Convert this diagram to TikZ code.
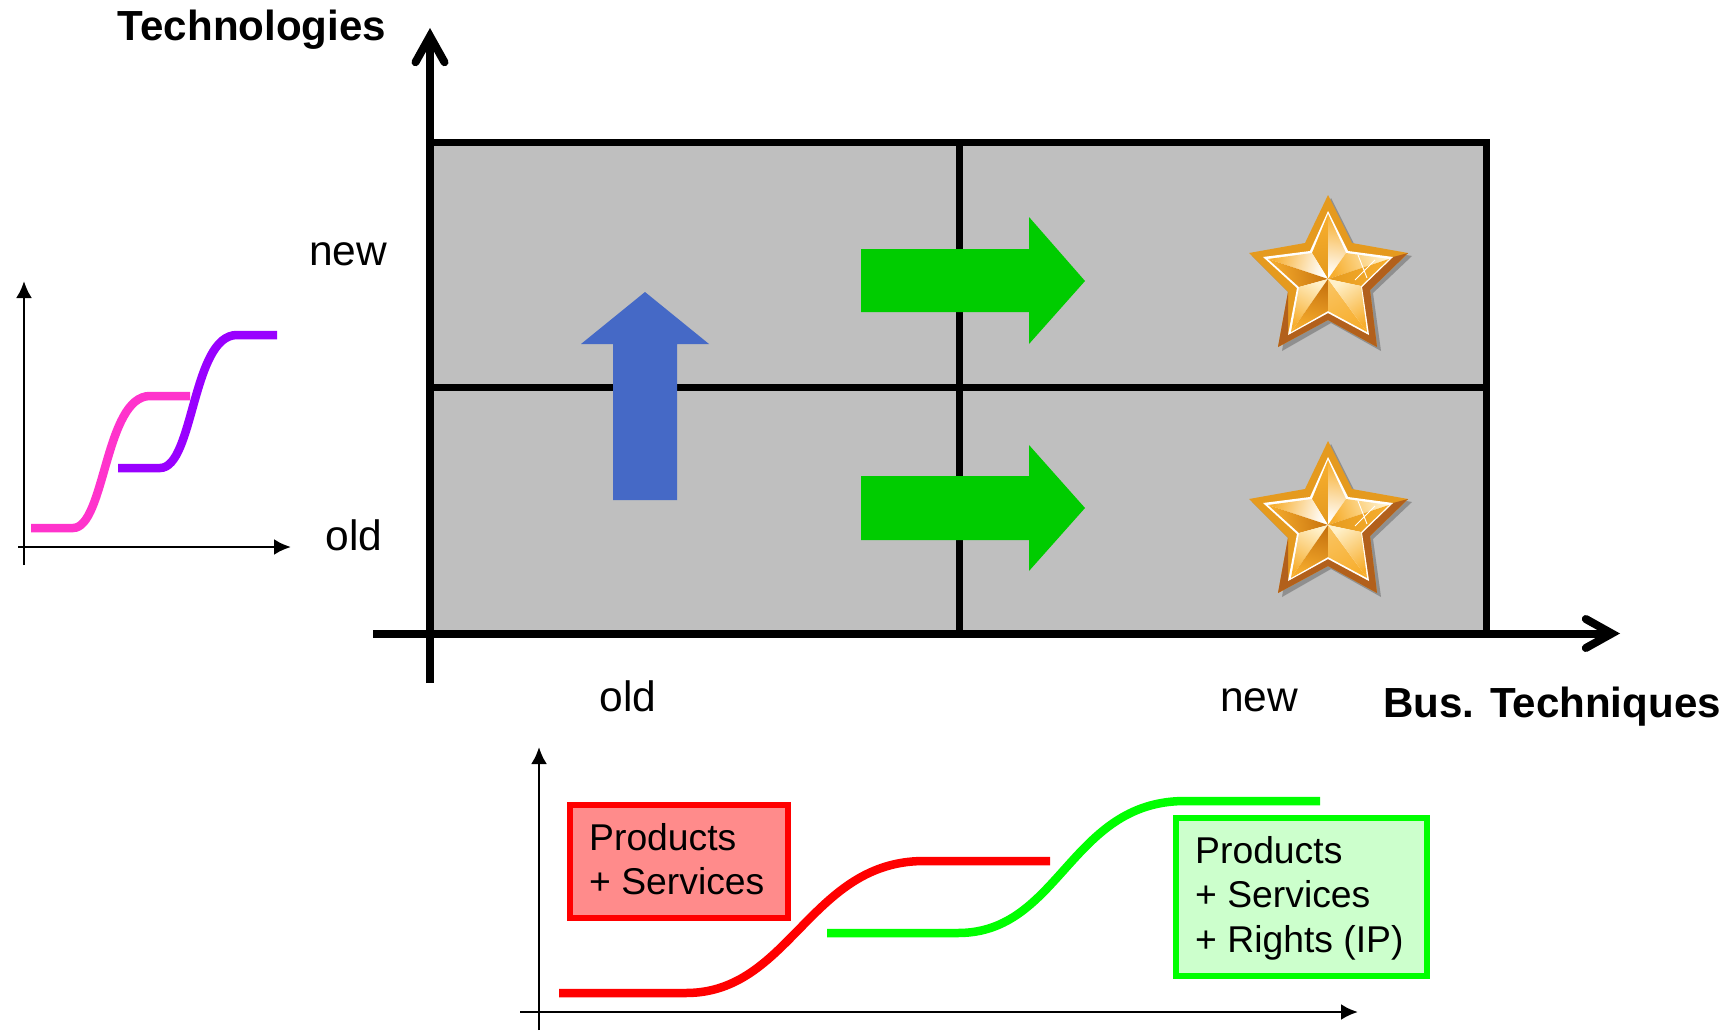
\documentclass[tikz,border=0pt]{standalone}
\usepackage{fontspec}
\setmainfont{Liberation Sans}
\usetikzlibrary{arrows.meta,calc}
\definecolor{cellgray}{HTML}{BFBFBF}
\definecolor{blueup}{HTML}{4569C6}
\definecolor{greenright}{HTML}{00CC00}
\definecolor{pinkc}{HTML}{FF33CC}
\definecolor{purplec}{HTML}{9900FF}
\definecolor{redfill}{HTML}{FF8B8B}
\definecolor{greenfill}{HTML}{CCFFCC}
\definecolor{rimgold}{HTML}{E59A1E}
\definecolor{rimdark}{HTML}{B2601C}
\definecolor{baseg}{HTML}{F7AE2E}
\definecolor{paleg}{HTML}{FFF0C8}
\definecolor{darkg}{HTML}{C8740F}
\tikzset{
  gridline/.style={line width=7pt,draw=black},
  mainaxis/.style={line width=8pt,draw=black,-{Straight Barb[length=26pt,width=29pt,line width=8pt,line cap=round,line join=miter]}},
  smallaxis/.style={line width=2.8pt,draw=black,-{Latex[length=17pt,width=16pt]}},
  curve/.style={line width=8.5pt},
  label/.style={font=\fontsize{42.5}{42.5}\selectfont,inner sep=0pt,anchor=center},
  boldlabel/.style={font=\fontsize{42.1}{42.1}\bfseries\selectfont,inner sep=0pt,anchor=center},
  boxtext/.style={font=\fontsize{37.3}{44.5}\selectfont,align=left,anchor=north west,inner sep=0pt},
  infobox/.style={line width=5.5pt,draw=#1},
  facet/.style n args={3}{top color=#1,bottom color=#2,shading angle=#3},
  starface/.pic={
    \fill[black,opacity=.25] (1331,198)--(1355,246)--(1412,256)--(1373,293)--(1381,351)--(1331,323)--(1282,351)--(1291,295)--(1252,256)--(1308,246)--cycle;
    \fill[rimgold] (1328,195)--(1352,243)--(1408,253)--(1370,290)--(1377,347)--(1328,320)--(1278,347)--(1288,292)--(1249,253)--(1305,243)--cycle;
    \fill[rimdark] (1408,253)--(1370,290)--(1377,347)--(1328,320)--(1278,347)--(1288,292)--(1288,335)--(1328,313)--(1369,335)--(1362,287)--(1393,257)--cycle;
    \fill[white] (1328,211)--(1348,251)--(1393,257)--(1362,287)--(1369,335)--(1328,313)--(1288,335)--(1297,288)--(1263,257)--(1310,251)--cycle;
    \shade[facet={baseg}{rimgold}{10}] (1328,214)--(1312,253)--(1328,279)--cycle;
    \shade[facet={baseg}{white}{-10}] (1328,214)--(1346,253)--(1328,279)--cycle;
    \shade[facet={baseg}{white}{75}] (1268,259)--(1312,253)--(1328,279)--cycle;
    \shade[facet={baseg}{darkg}{100}] (1268,259)--(1299,287)--(1328,279)--cycle;
    \shade[facet={paleg}{baseg}{-70}] (1389,259)--(1346,253)--(1328,279)--cycle;
    \shade[facet={baseg}{rimgold}{-90}] (1389,259)--(1361,286)--(1328,279)--cycle;
    \shade[facet={baseg}{paleg}{150}] (1299,287)--(1291,332)--(1328,279)--cycle;
    \shade[facet={baseg}{darkg}{165}] (1291,332)--(1328,311)--(1328,279)--cycle;
    \shade[facet={baseg}{baseg!70!paleg}{210}] (1328,279)--(1328,311)--(1367,332)--cycle;
    \shade[facet={baseg}{paleg}{215}] (1328,279)--(1367,332)--(1361,286)--cycle;
    \draw[white,line width=.9pt] (1358,255)--(1367,278) (1355,280)--(1375,260);
  }
}
\begin{document}
\begin{tikzpicture}[x=1pt,y=-1pt]
\useasboundingbox (0,0) rectangle (1736,1030);
% grid
\fill[cellgray] (430,142) rectangle (1486,633);
\coordinate (ytop) at (430,142);
\coordinate (xright) at (1486,142);
\coordinate (xrb) at (1486,633);
\coordinate (midl) at (430,387.5);
\coordinate (midr) at (1486,387.5);
\coordinate (vt) at (959,142);
\coordinate (vb) at (959,633);
\draw[gridline] (ytop)--(xright)--(xrb);
\draw[gridline] (midl)--(midr);
\draw[gridline] (vt)--(vb);
% blue arrow
\fill[blueup] (645,292)--(709,344)--(677,344)--(677,500)--(613,500)--(613,344)--(581,344)--cycle;
% green arrows
\fill[greenright] (861,249)--(1029,249)--(1029,217)--(1085,281)--(1029,344)--(1029,312)--(861,312)--cycle;
\fill[greenright] (861,476)--(1029,476)--(1029,445)--(1085,508)--(1029,571)--(1029,540)--(861,540)--cycle;
\pic at (0,0) {starface};
\pic at (0,246) {starface};
% main axes
\coordinate (yaxb) at (430,683);
\coordinate (yaxt) at (430,28);
\coordinate (xaxl) at (373,633.5);
\coordinate (xaxr) at (1620,633.5);
\draw[mainaxis] (yaxb)--(yaxt);
\draw[mainaxis] (xaxl)--(xaxr);
\node[boldlabel] (tech) at (252,30) {Technologies};
\node[boldlabel] (bus) at (1552,707) {Bus. Techniques};
\node[label] (ynew) at (348,254) {new};
\node[label] (yold) at (354,535) {old};
\node[label] (xold) at (628,696) {old};
\node[label] (xnew) at (1259,700) {new};
% left chart
\coordinate (ay1) at (24,565);
\coordinate (ay2) at (24,281);
\coordinate (ax1) at (18,547);
\coordinate (ax2) at (291,547);
\draw[smallaxis] (ay1)--(ay2);
\draw[smallaxis] (ax1)--(ax2);
\draw[curve,pinkc] (31,528)--(73,528) .. controls (105,528) and (105,396) .. (150,396)--(190,396);
\draw[curve,purplec] (118,468)--(160,468) .. controls (194,468) and (192,335) .. (237,335)--(277,335);
% bottom chart
\coordinate (by1) at (539,1030);
\coordinate (by2) at (539,747);
\coordinate (bx1) at (520,1012);
\coordinate (bx2) at (1358,1012);
\draw[smallaxis] (by1)--(by2);
\draw[smallaxis] (bx1)--(bx2);
\draw[curve,red] (559,993)--(686,993) .. controls (790,993) and (810,861) .. (924,861)--(1050,861);
\draw[curve,green] (827,933)--(958,933) .. controls (1060,933) and (1070,801) .. (1185,801)--(1320,801);
\node[infobox=red,fill=redfill,minimum width=218pt,minimum height=113pt,anchor=center] (redbox) at (679,861.5) {};
\node[boxtext] (redtext) at (589,823) {Products\\+ Services};
\node[infobox=green,fill=greenfill,minimum width=251pt,minimum height=158pt,anchor=center] (greenbox) at (1301.5,897) {};
\node[boxtext] (greentext) at (1195,836) {Products\\+ Services\\+ Rights (IP)};
\end{tikzpicture}
\end{document}
